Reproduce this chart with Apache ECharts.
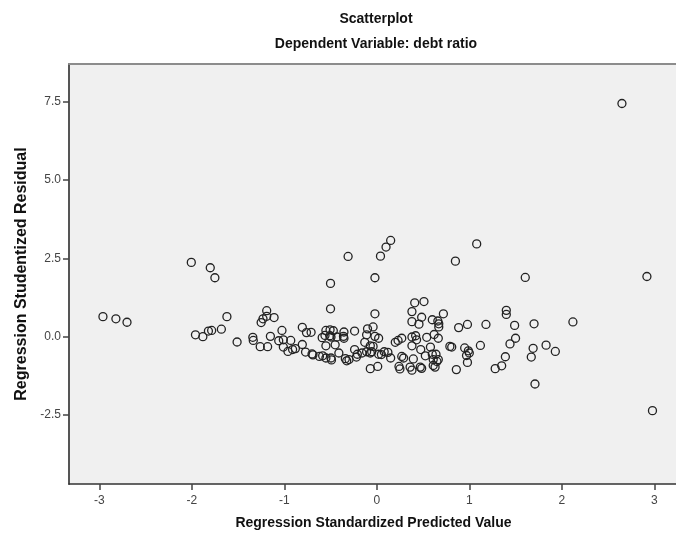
<!DOCTYPE html>
<html>
<head>
<meta charset="utf-8">
<script src="https://cdn.jsdelivr.net/npm/echarts@6/dist/echarts.min.js"></script>
<style>html,body{margin:0;padding:0;background:#fff;}#chart{width:676px;height:537px;}</style>
</head>
<body>
<div id="chart"></div>
<script>
const chartTitle = 'Scatterplot';
const chartSubtitle = 'Dependent Variable: debt ratio';
const xAxisName = 'Regression Standardized Predicted Value';
const yAxisName = 'Regression Studentized Residual';
const xTicks = [-3, -2, -1, 0, 1, 2, 3];
const yTicks = [-2.5, 0, 2.5, 5, 7.5];

// Regression standardized predicted values
const predicted = [
  -2.96,-2.82,-2.70,-2.005,-1.80,-1.75,-1.96,-1.88,-1.82,-1.785,-1.68,-1.62,-1.51,-1.34,-1.335,-1.26,-1.18,-1.25,-1.23,-1.19,-1.19,-1.15,
  0.15,0.10,0.04,-0.31,1.08,0.85,-0.50,-0.02,-0.50,-0.02,0.41,0.51,0.72,-1.11,0.38,0.485,0.38,0.456,0.60,0.66,0.67,0.67,0.885,0.98,
  -0.805,-1.025,-0.76,-0.71,-0.55,-0.505,-0.47,-0.355,-0.36,-0.24,-0.10,-0.04,-0.11,-0.02,0.02,-1.06,-1.01,-0.93,-1.01,-0.96,-0.91,-0.88,
  -0.805,-0.77,-0.70,-0.69,-0.62,-0.585,-0.59,-0.56,-0.505,-0.495,-0.43,-0.355,-0.55,-0.45,-0.55,-0.495,-0.49,-0.41,-0.34,-0.325,-0.30,
  -0.24,-0.21,-0.22,-0.16,-0.11,-0.07,-0.055,-0.13,-0.07,-0.04,0.02,0.05,0.08,0.12,0.15,-0.07,0.01,0.20,0.23,0.27,0.27,0.29,0.24,0.25,
  0.38,0.42,0.43,0.54,0.62,0.665,0.38,0.475,0.525,0.58,0.395,0.36,0.38,0.47,0.485,0.60,0.64,0.61,0.65,0.665,0.63,0.61,0.79,0.81,0.86,
  0.95,0.99,1.00,0.97,0.98,
  1.605,2.92,1.40,1.40,1.18,1.49,1.70,2.12,1.12,1.50,1.44,1.69,1.67,1.83,1.93,1.39,1.35,1.28,1.71,2.98,2.65
];
// Regression studentized residuals
const residual = [
  0.64,0.57,0.46,2.37,2.20,1.88,0.06,0.00,0.18,0.20,0.24,0.64,-0.17,-0.02,-0.12,-0.32,-0.32,0.45,0.57,0.83,0.65,0.01,
  3.07,2.86,2.57,2.56,2.96,2.41,1.70,1.88,0.89,0.73,1.08,1.12,0.73,0.61,0.80,0.62,0.48,0.40,0.54,0.50,0.41,0.31,0.29,0.39,
  0.30,0.20,0.13,0.14,0.20,0.22,0.19,0.15,0.01,0.18,0.25,0.31,0.06,0.01,-0.05,-0.13,-0.10,-0.12,-0.33,-0.47,-0.41,-0.38,
  -0.25,-0.49,-0.55,-0.58,-0.63,-0.61,-0.03,0.04,0.03,-0.01,-0.01,-0.05,-0.29,-0.26,-0.68,-0.68,-0.74,-0.52,-0.70,-0.77,-0.73,
  -0.41,-0.56,-0.65,-0.52,-0.48,-0.52,-0.48,-0.18,-0.29,-0.31,-0.56,-0.57,-0.48,-0.50,-0.68,-1.02,-0.95,-0.18,-0.12,-0.05,-0.63,-0.68,-0.95,-1.03,
  -0.01,0.03,-0.10,-0.02,0.07,-0.05,-0.29,-0.41,-0.61,-0.33,-0.71,-0.97,-1.07,-0.97,-1.01,-0.56,-0.56,-0.73,-0.79,-0.73,-0.97,-0.92,-0.31,-0.33,-1.05,
  -0.36,-0.45,-0.52,-0.60,-0.82,
  1.89,1.92,0.84,0.71,0.39,0.36,0.41,0.47,-0.28,-0.05,-0.23,-0.37,-0.65,-0.27,-0.47,-0.64,-0.93,-1.02,-1.51,-2.36,7.44
];

const points = predicted.map((x, i) => [x, residual[i]]);

const chart = echarts.init(document.getElementById('chart'), null, {renderer: 'canvas'});
const font = 'Arial, "Liberation Sans", sans-serif';
chart.setOption({
  animation: false,
  backgroundColor: '#ffffff',
  title: [
    {text: chartTitle, left: 371, top: 7, textAlign: 'center',
     textStyle: {fontFamily: font, fontSize: 14, fontWeight: 'bold', color: '#111'}},
    {text: chartSubtitle, left: 371, top: 32, textAlign: 'center',
     textStyle: {fontFamily: font, fontSize: 14, fontWeight: 'bold', color: '#111'}}
  ],
  grid: {left: 69, top: 64, right: -2, bottom: 53, show: true, backgroundColor: '#f0f0f0', borderWidth: 0,
         containLabel: false, outerBoundsMode: 'none'},
  xAxis: [{
    type: 'value', min: -3.327, max: 3.256, position: 'bottom',
    name: xAxisName, nameLocation: 'middle', nameGap: 32,
    nameTextStyle: {fontFamily: font, fontSize: 14, fontWeight: 'bold', color: '#111'},
    axisLine: {show: true, onZero: false, lineStyle: {color: '#333', width: 1.5}},
    axisTick: {show: true, length: 6, customValues: xTicks, lineStyle: {color: '#444', width: 1.5}},
    axisLabel: {customValues: xTicks, margin: 11, fontFamily: font, fontSize: 12, color: '#444', formatter: v => String(v)},
    splitLine: {show: false}
  }, {
    type: 'value', min: -3.327, max: 3.256, position: 'top',
    axisLine: {show: true, onZero: false, lineStyle: {color: '#8c8c8c', width: 2}},
    axisTick: {show: false}, axisLabel: {show: false}, splitLine: {show: false}
  }],
  yAxis: {
    type: 'value', min: -4.7, max: 8.7,
    name: yAxisName, nameLocation: 'middle', nameGap: 39,
    nameTextStyle: {fontFamily: font, fontSize: 16, fontWeight: 'bold', color: '#111'},
    axisLine: {show: true, onZero: false, lineStyle: {color: '#555', width: 2}},
    axisTick: {show: true, length: 6, customValues: yTicks, lineStyle: {color: '#444', width: 1.5}},
    axisLabel: {customValues: yTicks, margin: 8, fontFamily: font, fontSize: 12, color: '#444', formatter: v => v.toFixed(1)},
    splitLine: {show: false}
  },
  series: [{
    type: 'scatter',
    data: points,
    symbol: 'circle',
    symbolSize: 8,
    itemStyle: {color: 'rgba(0,0,0,0)', borderColor: '#222', borderWidth: 1.3, opacity: 1}
  }]
});
</script>
</body>
</html>
